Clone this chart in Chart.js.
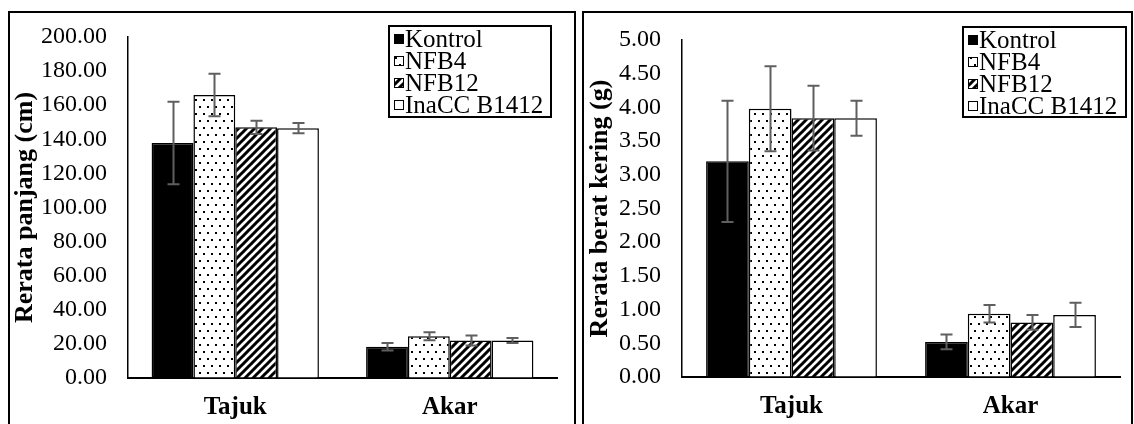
<!DOCTYPE html>
<html><head><meta charset="utf-8">
<script src="https://cdn.jsdelivr.net/npm/chart.js@4.4.1/dist/chart.umd.min.js"></script>
<style>
html,body{margin:0;padding:0;background:#fff;width:1134px;height:424px;overflow:hidden;position:relative;}
.box{position:absolute;border:2px solid #000;box-sizing:border-box;}
canvas{position:absolute;}
</style></head><body>
<div class="box" style="left:8px;top:11px;width:568px;height:440px"></div>
<div class="box" style="left:582px;top:11px;width:551px;height:440px"></div>
<canvas id="c1" width="563" height="411" style="left:10px;top:13px;width:563px;height:411px"></canvas>
<canvas id="c2" width="544" height="411" style="left:585px;top:13px;width:544px;height:411px"></canvas>
<script>
// ---- data ----
const categories = ['Tajuk', 'Akar'];
const seriesNames = ['Kontrol', 'NFB4', 'NFB12', 'InaCC B1412'];

// Rerata panjang (cm)
const panjangKontrol = [137.8, 18.4];
const panjangNFB4    = [166.0, 24.5];
const panjangNFB12   = [147.0, 22.0];
const panjangInaCC   = [146.5, 22.0];
const panjangKontrolErr = [24.2, 2.2];
const panjangNFB4Err    = [12.5, 2.4];
const panjangNFB12Err   = [3.9, 2.9];
const panjangInaCCErr   = [3.0, 1.5];
const panjangTicks = [0, 200, 20];

// Rerata berat kering (g)
const beratKontrol = [3.20, 0.52];
const beratNFB4    = [3.98, 0.94];
const beratNFB12   = [3.84, 0.81];
const beratInaCC   = [3.84, 0.92];
const beratKontrolErr = [0.90, 0.11];
const beratNFB4Err    = [0.63, 0.13];
const beratNFB12Err   = [0.48, 0.11];
const beratInaCCErr   = [0.26, 0.18];
const beratTicks = [0, 5, 0.5];

const FONT = "'Liberation Serif', 'Times New Roman', serif";

function makePatterns(){
  const tmp = document.createElement('canvas').getContext('2d');
  // dotted
  const d = document.createElement('canvas'); d.width = 8; d.height = 14;
  let g = d.getContext('2d');
  g.fillStyle = '#fff'; g.fillRect(0,0,8,14);
  g.fillStyle = '#000'; g.fillRect(1,2,2,2); g.fillRect(5,9,2,2);
  // wide upward diagonal
  const h = document.createElement('canvas'); h.width = 8; h.height = 8;
  g = h.getContext('2d');
  g.fillStyle = '#fff'; g.fillRect(0,0,8,8);
  g.strokeStyle = '#000'; g.lineWidth = 3; g.beginPath();
  g.moveTo(-2,2); g.lineTo(2,-2);
  g.moveTo(-1,9); g.lineTo(9,-1);
  g.moveTo(6,10); g.lineTo(10,6);
  g.stroke();
  return { black: '#000', dots: tmp.createPattern(d,'repeat'), hatch: tmp.createPattern(h,'repeat'), white: '#fff' };
}
const P = makePatterns();
const fills = [P.black, P.dots, P.hatch, P.white];

const errorBarPlugin = {
  id: 'errorBars',
  afterDatasetsDraw(chart, args, opts){
    const ctx = chart.ctx, ys = chart.scales.y;
    ctx.save();
    ctx.strokeStyle = opts.color; ctx.lineWidth = opts.width;
    chart.data.datasets.forEach((ds, i) => {
      const meta = chart.getDatasetMeta(i);
      const errs = opts.errors[i];
      meta.data.forEach((bar, j) => {
        const v = ds.data[j], e = errs[j];
        const x = Math.round(bar.x) + 0.5;
        const yt = ys.getPixelForValue(v + e), yb = ys.getPixelForValue(v - e);
        ctx.beginPath();
        ctx.moveTo(x, yt); ctx.lineTo(x, yb);
        ctx.moveTo(x - opts.cap, yt); ctx.lineTo(x + opts.cap, yt);
        ctx.moveTo(x - opts.cap, yb); ctx.lineTo(x + opts.cap, yb);
        ctx.stroke();
      });
    });
    ctx.restore();
  }
};

const boxLegendPlugin = {
  id: 'boxLegend',
  afterDraw(chart, args, o){
    const ctx = chart.ctx;
    ctx.save();
    ctx.lineWidth = 2; ctx.strokeStyle = '#000';
    ctx.fillStyle = '#fff';
    ctx.fillRect(o.x, o.y, o.w, o.h);
    ctx.strokeRect(o.x, o.y, o.w, o.h);
    ctx.font = o.fontSize + 'px ' + FONT;
    ctx.textBaseline = 'middle';
    ctx.lineWidth = 1;
    chart.data.datasets.forEach((ds, i) => {
      const cy = o.y + o.padTop + i * o.row + o.row / 2;
      const mx = o.x + o.padLeft;
      ctx.fillStyle = ds.backgroundColor;
      ctx.fillRect(mx, cy - o.mark/2, o.mark, o.mark);
      ctx.strokeRect(mx + 0.5, cy - o.mark/2 + 0.5, o.mark - 1, o.mark - 1);
      ctx.fillStyle = '#000';
      ctx.fillText(ds.label, mx + o.mark + 1, cy + 1);
    });
    ctx.restore();
  }
};

function buildChart(id, series, errs, ticks, title, cfg){
  const datasets = series.map((data, i) => ({
    label: seriesNames[i], data: data,
    backgroundColor: fills[i], borderColor: '#000', borderWidth: 1.5,
    categoryPercentage: 0.78, barPercentage: 1.0
  }));
  return new Chart(document.getElementById(id), {
    type: 'bar',
    data: { labels: categories, datasets: datasets },
    plugins: [errorBarPlugin, boxLegendPlugin],
    options: {
      responsive: false, animation: false, maintainAspectRatio: false,
      layout: { padding: { top: cfg.padTop, right: cfg.padRight, left: 0, bottom: 0 } },
      plugins: {
        legend: { display: false }, tooltip: { enabled: false },
        errorBars: { errors: errs, color: '#5f5f5f', width: 2, cap: 6 },
        boxLegend: cfg.legend
      },
      scales: {
        x: {
          grid: { display: true, drawOnChartArea: false, drawTicks: false },
          border: { display: true, color: '#000', width: 2 },
          ticks: { color: '#000', font: { family: FONT, size: 25, weight: 'bold' }, padding: cfg.xPad },
          afterFit: s => { s.height = cfg.xHeight; s.paddingLeft = 0; s.paddingRight = 0; }
        },
        y: {
          min: ticks[0], max: ticks[1],
          grid: { display: true, drawOnChartArea: false, drawTicks: false },
          border: { display: true, color: '#000', width: 1.5 },
          ticks: { stepSize: ticks[2], autoSkip: false, color: '#000', padding: 21,
                   font: { family: FONT, size: 24 }, callback: v => Number(v).toFixed(2) },
          title: { display: true, text: title, color: '#000',
                   font: { family: FONT, size: 26, weight: 'bold' }, padding: { top: cfg.titlePad, bottom: 0 } },
          afterFit: s => { s.width = cfg.yWidth; s.paddingTop = 0; s.paddingBottom = 0; }
        }
      }
    }
  });
}

buildChart('c1',
  [panjangKontrol, panjangNFB4, panjangNFB12, panjangInaCC],
  [panjangKontrolErr, panjangNFB4Err, panjangNFB12Err, panjangInaCCErr],
  panjangTicks, 'Rerata panjang (cm)',
  { padTop: 24, padRight: 16, xHeight: 46, yWidth: 118, xPad: 15, titlePad: 0,
    legend: { x: 379, y: 13, w: 162, h: 91, padTop: 2, padLeft: 5, row: 22, mark: 10, fontSize: 25 } });

buildChart('c2',
  [beratKontrol, beratNFB4, beratNFB12, beratInaCC],
  [beratKontrolErr, beratNFB4Err, beratNFB12Err, beratInaCCErr],
  beratTicks, 'Rerata berat kering (g)',
  { padTop: 27, padRight: 9, xHeight: 47, yWidth: 97, xPad: 15, titlePad: 0,
    legend: { x: 378, y: 14, w: 163, h: 90, padTop: 2, padLeft: 5, row: 22, mark: 10, fontSize: 25 } });
</script>
</body></html>
